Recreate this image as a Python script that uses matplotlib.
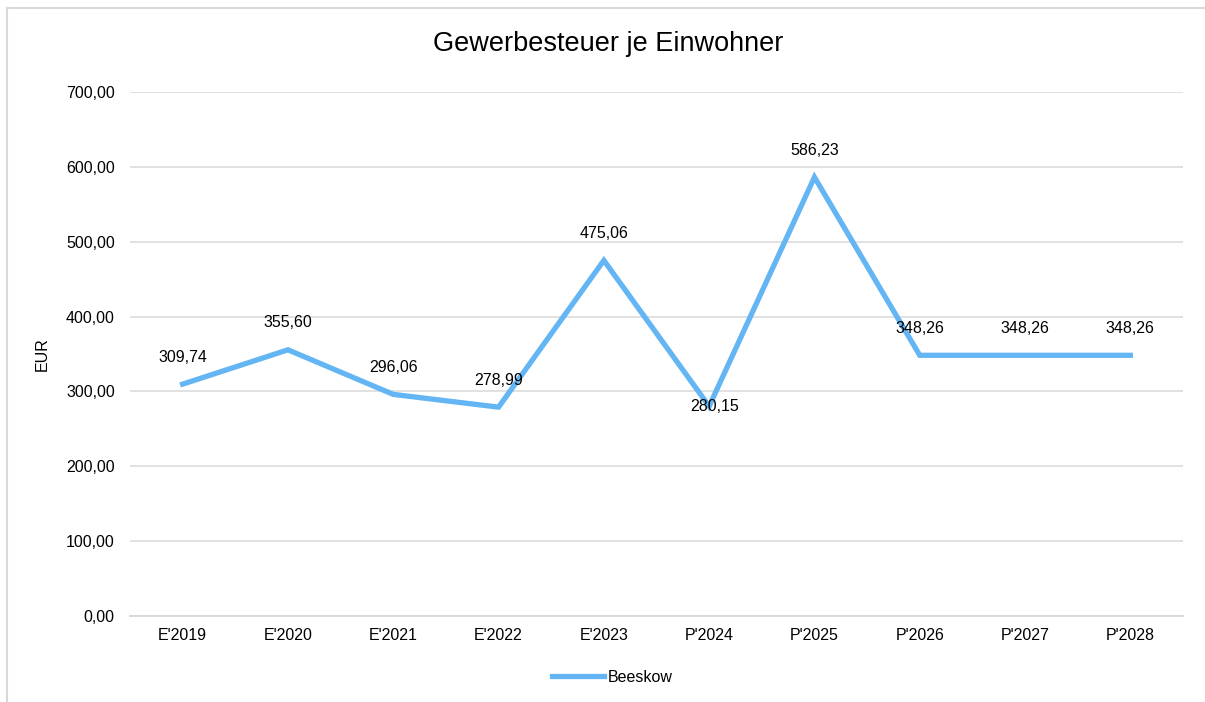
import matplotlib.pyplot as plt
from matplotlib.lines import Line2D

plt.rcParams['font.family'] = ['Liberation Sans', 'DejaVu Sans']

# data
years = ["E'2019", "E'2020", "E'2021", "E'2022", "E'2023",
         "P'2024", "P'2025", "P'2026", "P'2027", "P'2028"]
beeskow = [309.74, 355.60, 296.06, 278.99, 475.06,
           280.15, 586.23, 348.26, 348.26, 348.26]

W, H = 1205, 702
fig = plt.figure(figsize=(W / 100, H / 100), dpi=100)

# chart frame (left and top edges visible)
border = '#d9d9d9'
fig.add_artist(Line2D([7 / W, 7 / W], [0, 1 - 8 / H], color=border, lw=1.5))
fig.add_artist(Line2D([7 / W, 1], [1 - 8 / H, 1 - 8 / H], color=border, lw=1.5))

ax = fig.add_axes([130 / W, 1 - 616 / H, (1183 - 130) / W, (616 - 92) / H])

blue = '#63b5f3'
fs = 11.5
x = range(len(years))
ax.plot(x, beeskow, color=blue, lw=3.8, solid_joinstyle='miter', label='Beeskow')

def fmt(v):
    return f"{v:,.2f}".replace(',', 'X').replace('.', ',').replace('X', '.')

for i, v in enumerate(beeskow):
    off = (0, 19.5)
    if i == 5:  # this one sits on the point in the original
        off = (4, 0)
    ax.annotate(fmt(v), (i, v), xytext=off, textcoords='offset points',
                ha='center', va='center', fontsize=fs, color='#000000')

ax.set_xlim(-0.5, len(years) - 0.5)
ax.set_ylim(0, 700)
ax.set_yticks(range(0, 701, 100))
ax.set_yticklabels([fmt(t) for t in range(0, 701, 100)])
ax.set_xticks(list(x))
ax.set_xticklabels(years)
ax.tick_params(axis='both', length=0, labelsize=fs, colors='#000000')
ax.tick_params(axis='y', pad=11)
ax.tick_params(axis='x', pad=9)
ax.grid(axis='y', color=border, lw=1.1)
ax.set_axisbelow(True)
for s in ['top', 'right', 'left']:
    ax.spines[s].set_visible(False)
ax.spines['bottom'].set_color(border)
ax.spines['bottom'].set_linewidth(1.4)

ax.set_ylabel('EUR', fontsize=fs)
ax.yaxis.set_label_coords(-(130 - 50) / (1183 - 130), 0.5)

fig.text(608 / W, 1 - 44 / H, 'Gewerbesteuer je Einwohner', ha='center', va='center',
         fontsize=19.5)

fig.legend(loc='center', bbox_to_anchor=(612 / W, 1 - 677 / H), frameon=False,
           fontsize=fs, handlelength=3.3, handletextpad=0.2)

fig.savefig('out.png', dpi=100)
